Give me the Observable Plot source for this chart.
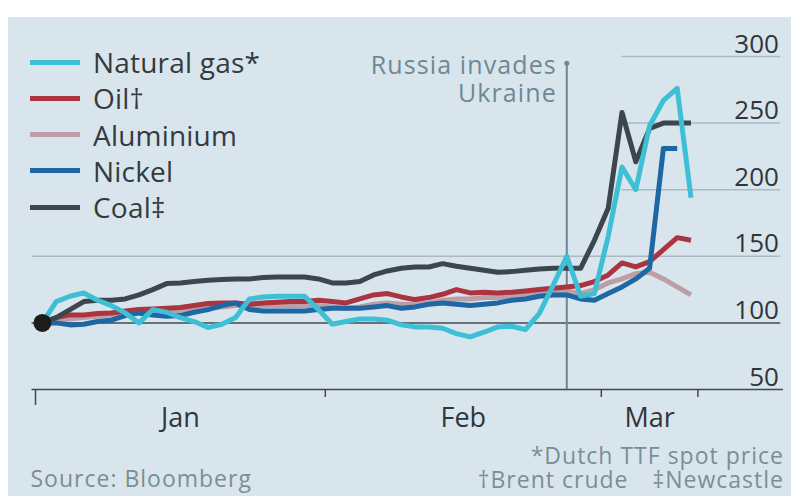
<!DOCTYPE html>
<html>
<head>
<meta charset="utf-8">
<script src="https://cdn.jsdelivr.net/npm/d3@7"></script>
<script src="https://cdn.jsdelivr.net/npm/@observablehq/plot@0.6"></script>
<style>
  body { margin: 0; background: #ffffff; }
  #wrap { position: relative; width: 791px; height: 496px; overflow: hidden; font-family: "Open Sans", sans-serif; }
  #panel { position: absolute; left: 8px; top: 17px; width: 783px; height: 479px; background: #d9e5ed; }
  #chart { position: absolute; left: 0; top: 0; }
  .item { position: absolute; left: 30px; height: 36px; display: flex; align-items: center; }
  .sw { width: 50px; height: 5px; margin-right: 13px; }
  .lab { font-size: 28px; line-height: 36px; color: #343a3e; white-space: nowrap; letter-spacing: 0.2px; }
</style>
</head>
<body>
<div id="wrap">
  <div id="panel"></div>
  <div id="chart"></div>
  <div id="legend"></div>
</div>
<script>
// Trading-day index 0 = Jan 3rd 2022 ... 47 = Mar 9th 2022; values rebased, Jan 3rd = 100
const seriesNames = ["Natural gas*", "Oil\u2020", "Aluminium", "Nickel", "Coal\u2021"];
const seriesColors = ["#3dbfd5", "#ab3441", "#bd9ea6", "#1e67a3", "#3b474d"];

const natGas = [100,116,120,122.5,117,113,107.5,100,110,108,104,101,96.5,99,104,118,119.5,120,120,120,110,99,101,103,103,102,98.5,97,97,96,92,89.5,93,97,97.5,95,107,128,150,120,122,165,217,200,248,267,276,194];
const oil    = [100,104,106,106,107,107.5,109,110,110.5,111,111.5,113,114.5,115,115,114,115,115.5,116,116,117,116,115,118,121,122,119.5,117.5,119,121.5,125,122.5,123,122.5,123,124,125,126,127,128,131,136,145,142,146,155,164,162];
const aluminium = [100,102,103,104,105,106,107,107,107,108,109,110,111,112,113,113,113,113,113,113,113,112,111,112,114,115,114,114,115,117,118,118,119,119,120,121,122,123,124,122,125,130,133,137,138,133,127,121];
const nickel = [100,100,98.5,99,101,102,105.5,107.5,106,105,105.5,108,110,113,115,110,109,109,109,109,110,111,111,111,112,113,111,112,114,115,114,113,114,115,117,118,120,121,121,118,117,122,127,133,141,231,231,null];
const coal   = [100,104,110,116,117,117,118,121,125,129.5,130,131,132,132.5,133,133,134,134.5,134.5,134.5,133,130,130,131,136,139,141,142,142,144.5,142.5,141,139.5,138,138.5,139.5,140.5,141,141,141,162,186,258,221,246,250,250,250];

const monthTicks = [0, 21, 41, 48];          // trading-day boundaries: Jan 1st, Feb 1st, Mar 1st, end
const monthLabels = ["Jan", "Feb", "Mar"];
const yTicks = [50, 100, 150, 200, 250, 300];
const invasionDay = 38;                      // Feb 24th 2022
const annotation = "Russia invades\nUkraine";
const footnotes = ["*Dutch TTF spot price", "\u2020Brent crude\u2003\u2021Newcastle"];
const source = "Source: Bloomberg";

const seriesValues = [natGas, oil, aluminium, nickel, coal];
const drawOrder = [2, 1, 3, 4, 0];

const rows = [];
seriesValues.forEach((vals, s) => vals.forEach((v, i) => rows.push({series: s, x: i + 0.5, y: v})));
const months = monthLabels.map((m, i) => ({label: m, mid: (monthTicks[i] + monthTicks[i + 1]) / 2}));

const lineMarks = drawOrder.map(s => Plot.lineY(rows.filter(r => r.series === s), {
  x: "x", y: "y", stroke: seriesColors[s], strokeWidth: 5,
  strokeLinejoin: "round", strokeLinecap: "butt", defined: r => r.y != null
}));

const chart = Plot.plot({
  width: 791, height: 496,
  marginLeft: 35, marginRight: 93.6, marginTop: 56, marginBottom: 107,
  x: {domain: [0, 48], axis: null},
  y: {domain: [50, 300], axis: null},
  style: {background: "transparent", fontFamily: "Open Sans, sans-serif", overflow: "visible"},
  marks: [
    Plot.ruleY([150], {x1: -0.25, x2: 54, stroke: "#a9bac4", strokeWidth: 1.5}),
    Plot.ruleY([200, 250, 300], {x1: 42.5, x2: 54, stroke: "#a9bac4", strokeWidth: 1.5}),
    Plot.ruleY([100], {x1: -0.25, x2: 54, stroke: "#3f4a50", strokeWidth: 1.5}),
    Plot.ruleY([50], {x1: -0.25, x2: 54.2, stroke: "#3f4a50", strokeWidth: 1.5}),
    Plot.ruleX(monthTicks, {x: d => d, y1: 50, y2: d => d === 0 ? 38 : 44, stroke: "#3f4a50", strokeWidth: 1.5}),
    Plot.text(months, {x: "mid", text: "label", frameAnchor: "bottom", lineAnchor: "top", dy: 18, fontSize: 27, fill: "#2f3539"}),
    Plot.text(yTicks, {y: d => d, text: d => String(d), frameAnchor: "right", textAnchor: "end", lineAnchor: "bottom", dx: 81, dy: -4, fontSize: 26, fill: "#2f3539"}),
    Plot.ruleX([invasionDay + 0.5], {x: d => d, y1: 50, y2: 295, stroke: "#6c8793", strokeWidth: 2}),
    Plot.dot([invasionDay + 0.5], {x: d => d, y: 295, r: 2.5, fill: "#6c8793"}),
    Plot.text([annotation], {x: invasionDay + 0.5, y: 302, text: d => d, textAnchor: "end", lineAnchor: "top", dx: -10, lineHeight: 1.12, fontSize: 25, fill: "#6e8893"}),
    ...lineMarks,
    Plot.dot([{x: 0.5, y: 100}], {x: "x", y: "y", r: 9, fill: "#1c1c1c"}),
    Plot.text([footnotes[0]], {text: d => d, frameAnchor: "bottom-right", textAnchor: "end", lineAnchor: "bottom", dx: 86, dy: 74, fontSize: 23, fill: "#7b8e96"}),
    Plot.text([footnotes[1]], {text: d => d, frameAnchor: "bottom-right", textAnchor: "end", lineAnchor: "bottom", dx: 86, dy: 98, fontSize: 23, fill: "#7b8e96"}),
    Plot.text([source], {text: d => d, frameAnchor: "bottom-left", textAnchor: "start", lineAnchor: "bottom", dx: -5, dy: 97, fontSize: 23, fill: "#7b8e96"})
  ]
});
document.getElementById("chart").appendChild(chart);

// widen the lettering of the notes and annotation to match the original typeface
d3.select(chart).selectAll("text").each(function () {
  const t = this.textContent;
  if (footnotes.includes(t) || t === source) this.setAttribute("letter-spacing", "1px");
  if (t === annotation.replace("\n", "")) this.setAttribute("letter-spacing", "1.1px");
});

const legend = document.getElementById("legend");
seriesNames.forEach((name, s) => {
  const item = document.createElement("div");
  item.className = "item";
  item.style.top = (63 + s * 36.3 - 19) + "px";
  const sw = document.createElement("div");
  sw.className = "sw";
  sw.style.background = seriesColors[s];
  const lab = document.createElement("span");
  lab.className = "lab";
  lab.textContent = name;
  item.appendChild(sw);
  item.appendChild(lab);
  legend.appendChild(item);
});
</script>
</body>
</html>
